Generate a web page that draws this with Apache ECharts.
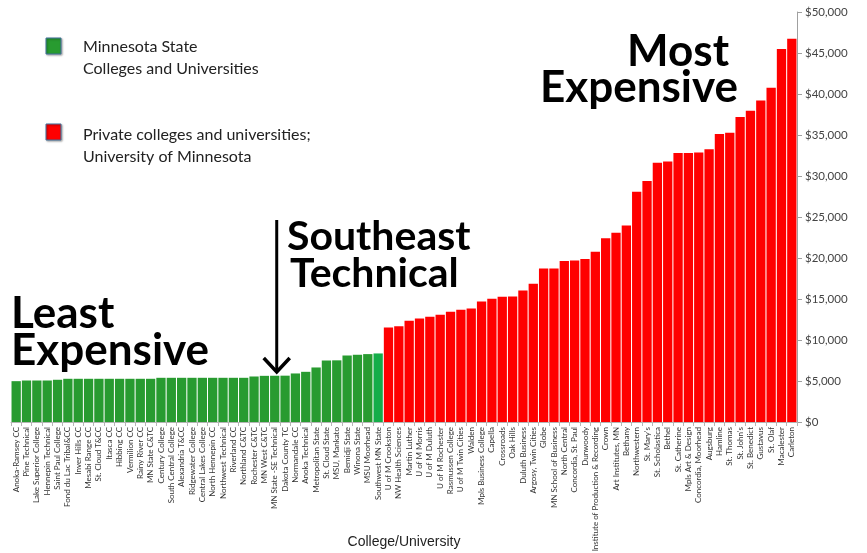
<!DOCTYPE html>
<html>
<head>
<meta charset="utf-8">
<style>
  html, body { margin: 0; padding: 0; background: #fff; }
  #main { width: 867px; height: 553px; }
</style>
<script src="https://cdn.jsdelivr.net/npm/echarts@6/dist/echarts.min.js"></script>
</head>
<body>
<div id="main"></div>
<script>
// colleges, sorted by cost
var mnscuNames = ['Anoka-Ramsey CC', 'Pine Technical', 'Lake Superior College', 'Hennepin Technical',
  'Saint Paul College', 'Fond du Lac Tribal&CC', 'Inver Hills CC', 'Mesabi Range CC', 'St. Cloud T&CC',
  'Itasca CC', 'Hibbing CC', 'Vermilion CC', 'Rainy River CC', 'MN State C&TC', 'Century College',
  'South Central College', 'Alexandria T&CC', 'Ridgewater College', 'Central Lakes College',
  'North Hennepin CC', 'Northwest Technical', 'Riverland CC', 'Northland C&TC', 'Rochester C&TC',
  'MN West C&TC', 'MN State -SE Technical', 'Dakota County TC', 'Normandale CC', 'Anoka Technical',
  'Metropolitan State', 'St. Cloud State', 'MSU, Mankato', 'Bemidji State', 'Winona State',
  'MSU Moorhead', 'Southwest MN State'];
var mnscuValues = [4980, 5060, 5060, 5060, 5150, 5270, 5270, 5270, 5270, 5270, 5270, 5270, 5270, 5270,
  5390, 5390, 5390, 5390, 5390, 5390, 5390, 5390, 5390, 5550, 5630, 5640, 5650, 5920, 6120, 6650,
  7500, 7520, 8110, 8200, 8280, 8360];

var privateNames = ['U of M Crookston', 'NW Health Sciences', 'Martin Luther', 'U of M Morris',
  'U of M Duluth', 'U of M Rochester', 'Rasmussen College', 'U of M Twin Cities', 'Walden',
  'Mpls Business College', 'Capella', 'Crossroads', 'Oak Hills', 'Duluth Business',
  'Argosy, Twin Cities', 'Globe', 'MN School of Business', 'North Central', 'Concordia, St. Paul',
  'Dunwoody', 'Institute of Production & Recording', 'Crown', 'Art Institutes, MN', 'Bethany',
  'Northwestern', "St. Mary's", 'St. Scholastica', 'Bethel', 'St. Catherine', 'Mpls Art & Design',
  'Concordia, Moorhead', 'Augsburg', 'Hamline', 'St. Thomas', "St. John's", 'St. Benedict',
  'Gustavus', 'St. Olaf', 'Macalester', 'Carleton'];
var privateValues = [11530, 11690, 12340, 12630, 12830, 13070, 13440, 13680, 13850, 14700, 15030,
  15270, 15310, 16040, 16860, 18730, 18730, 19620, 19700, 19870, 20760, 22410, 23080, 23970, 28080,
  29380, 31620, 31780, 32800, 32800, 32880, 33250, 35120, 35280, 37190, 37960, 39220, 40770, 45490,
  46750];

var yTicks = [0, 5000, 10000, 15000, 20000, 25000, 30000, 35000, 40000, 45000, 50000];

var categories = mnscuNames.concat(privateNames);

var greenData = mnscuValues.map(function (v, i) {
  if (i === mnscuValues.length - 1) {
    return { value: v, itemStyle: { color: '#14ad49' } }; // Southwest MN State a bit brighter
  }
  return v;
}).concat(privateValues.map(function () { return '-'; }));
var redData = mnscuValues.map(function () { return '-'; }).concat(privateValues);

var myChart = echarts.init(document.getElementById('main'));

var txtFont = 'Lato, "Open Sans", sans-serif';
var option = {
  animation: false,
  grid: { left: 11, right: 70, top: 12, bottom: 131, outerBoundsMode: 'none', containLabel: false },
  xAxis: {
    type: 'category',
    data: categories,
    name: 'College/University',
    nameLocation: 'middle',
    nameGap: 113,
    nameMoveOverlap: false,
    nameTextStyle: { fontFamily: '"Liberation Sans", Arial, sans-serif', fontSize: 14, color: '#222' },
    axisLine: { lineStyle: { color: '#b5b5b5' } },
    axisTick: { show: true, length: 4, lineStyle: { color: '#b5b5b5' } },
    axisLabel: { interval: 0, rotate: 90, fontSize: 8, margin: 5, color: '#333', fontFamily: txtFont }
  },
  yAxis: {
    type: 'value',
    position: 'right',
    min: yTicks[0],
    max: yTicks[yTicks.length - 1],
    interval: 5000,
    splitLine: { show: false },
    axisLine: { show: true, lineStyle: { color: '#a0a0a0' } },
    axisTick: { show: true, length: 5, lineStyle: { color: '#a0a0a0' } },
    axisLabel: {
      margin: 8, fontSize: 11.5, color: '#444', fontFamily: txtFont,
      formatter: function (v) { return '$' + v.toLocaleString('en-US'); }
    }
  },
  series: [
    {
      name: 'Minnesota State Colleges and Universities',
      type: 'bar', stack: 'cost',
      barCategoryGap: '10%',
      itemStyle: { color: '#289b30' },
      data: greenData
    },
    {
      name: 'Private colleges and universities; University of Minnesota',
      type: 'bar', stack: 'cost',
      barCategoryGap: '10%',
      itemStyle: { color: '#ff0000' },
      data: redData
    }
  ]
};
myChart.setOption(option);

// annotations + legend boxes
var arrowX = myChart.convertToPixel({ xAxisIndex: 0 }, 'MN State -SE Technical') + 2;
var bigFont = 'bold 44px Lato, "Open Sans", sans-serif';
var midFont = 'bold 41px Lato, "Open Sans", sans-serif';
var legFont = '16px ' + txtFont;
myChart.setOption({
  graphic: {
    elements: [
      { type: 'rect', z: 100, shape: { x: 46, y: 38, width: 15, height: 16 },
        style: { fill: '#289b30', stroke: '#41719c', lineWidth: 1, shadowBlur: 2, shadowColor: 'rgba(0,0,0,0.35)', shadowOffsetX: 1, shadowOffsetY: 1 } },
      { type: 'text', z: 100, x: 83, y: 36, style: { text: 'Minnesota State\nColleges and Universities', font: legFont, lineHeight: 22, fill: '#222' } },
      { type: 'rect', z: 100, shape: { x: 46, y: 124, width: 15, height: 16 },
        style: { fill: '#ff0000', stroke: '#41719c', lineWidth: 1, shadowBlur: 2, shadowColor: 'rgba(0,0,0,0.35)', shadowOffsetX: 1, shadowOffsetY: 1 } },
      { type: 'text', z: 100, x: 83, y: 124, style: { text: 'Private colleges and universities;\nUniversity of Minnesota', font: legFont, lineHeight: 22, fill: '#222' } },

      { type: 'text', z: 100, x: 729, y: 30, style: { text: 'Most', font: bigFont, fill: '#000', align: 'right' } },
      { type: 'text', z: 100, x: 738, y: 66, style: { text: 'Expensive', font: bigFont, fill: '#000', align: 'right' } },
      { type: 'text', z: 100, x: 287, y: 216, style: { text: 'Southeast', font: midFont, fill: '#000' } },
      { type: 'text', z: 100, x: 290, y: 253, style: { text: 'Technical', font: midFont, fill: '#000' } },
      { type: 'text', z: 100, x: 11, y: 292, style: { text: 'Least', font: bigFont, fill: '#000' } },
      { type: 'text', z: 100, x: 11, y: 329, style: { text: 'Expensive', font: bigFont, fill: '#000' } },

      { type: 'line', z: 100, shape: { x1: arrowX, y1: 220, x2: arrowX, y2: 371 }, style: { stroke: '#000', lineWidth: 3 } },
      { type: 'polyline', z: 100, shape: { points: [[arrowX - 13, 358], [arrowX, 372], [arrowX + 13, 358]] },
        style: { stroke: '#000', lineWidth: 3.5, fill: null } }
    ]
  }
});
</script>
</body>
</html>
